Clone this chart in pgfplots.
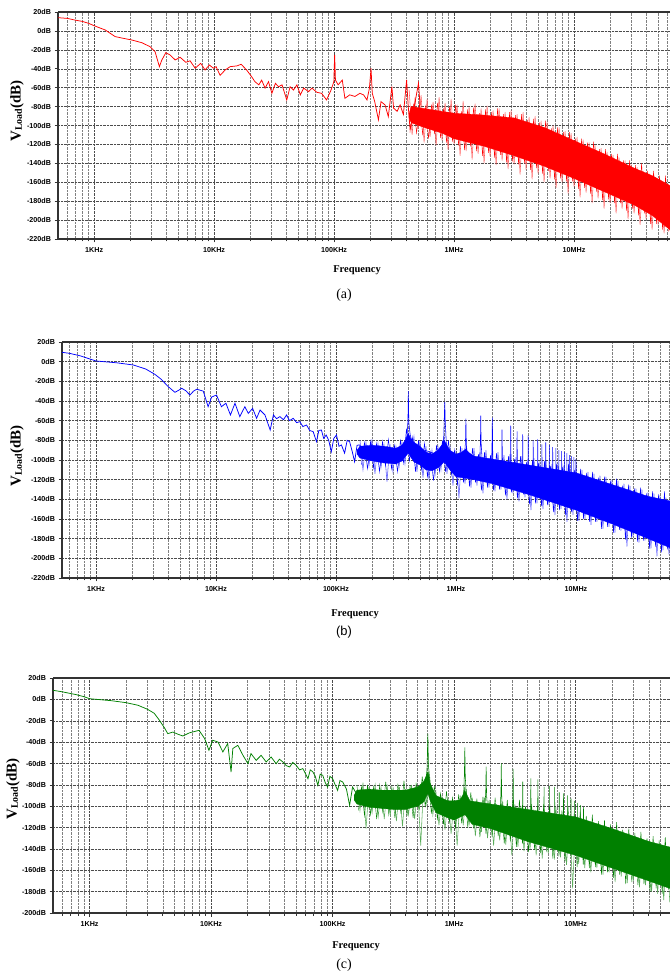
\documentclass[border=0pt]{standalone}
\usepackage{pgfplots}
\pgfplotsset{compat=1.18}
\usepackage{fontspec}
\setmainfont{Liberation Serif}
\setsansfont{Liberation Sans}

\definecolor{sred}{RGB}{255,0,0}
\definecolor{sblue}{RGB}{0,0,255}
\definecolor{sgreen}{RGB}{0,128,0}

% common look of the three spectra
\pgfplotsset{
  specaxis/.style={
    scale only axis, anchor=south west,
    axis x line*=box, axis y line*=left,
    xtick pos=bottom, ytick pos=left,
    axis line style={black!80, line width=1.1bp},
    tick align=outside,
    major tick length=3.5bp, minor tick length=2.5bp,
    tick style={black!80, line width=0.6bp},
    xtick={1e3,1e4,1e5,1e6,1e7},
    xticklabels={1KHz,10KHz,100KHz,1MHz,10MHz},
    minor xtick={600,700,800,900,2000,3000,4000,5000,6000,7000,8000,9000,
      2e4,3e4,4e4,5e4,6e4,7e4,8e4,9e4,2e5,3e5,4e5,5e5,6e5,7e5,8e5,9e5,
      2e6,3e6,4e6,5e6,6e6,7e6,8e6,9e6,2e7,3e7,4e7,5e7,6e7},
    grid=both,
    major grid style={densely dotted, black!70, line width=0.45bp},
    minor grid style={densely dotted, black!50, line width=0.45bp},
    tick label style={font=\sffamily\bfseries\fontsize{7.2}{8}\selectfont},
    xticklabel style={yshift=-1.5bp},
  },
  longspikes/.style={line width=0.55bp},
  shortspikes/.style={line width=0.4bp},
  mainline/.style={line width=0.75bp},
}

\newcommand{\vlabel}{\fontsize{15}{15}\selectfont\bfseries V\raisebox{-1.3bp}{\fontsize{10}{10}\selectfont Load}(dB)}
\newcommand{\flabel}{\fontsize{10.5}{12}\selectfont\bfseries Frequency}

\begin{document}
\begin{tikzpicture}
\path[use as bounding box] (0,0) rectangle (670bp,979bp);

%% ---------------- (a) ----------------
\begin{axis}[xmode=log, specaxis, at={(58bp,740bp)}, width=612bp, height=227bp,
  xmin=500, xmax=6.3e7, ymin=-220, ymax=20,
  ytick={-220,-200,...,20},
  yticklabels={-220dB,-200dB,-180dB,-160dB,-140dB,-120dB,-100dB,-80dB,-60dB,-40dB,-20dB,0dB,20dB}]
\addplot[longspikes, sred!65] coordinates {
(4.217e5,-62) (4.467e5,-110) (4.732e5,-70) (5.012e5,-104) (5.309e5,-68) (5.623e5,-118)
(5.957e5,-72) (6.310e5,-112) (6.683e5,-75) (7.079e5,-121) (7.499e5,-70) (7.943e5,-116)
(8.414e5,-76) (8.913e5,-126) (9.441e5,-72) (1.000e6,-120) (1.059e6,-78) (1.122e6,-132)
(1.189e6,-74) (1.259e6,-127) (1.334e6,-80) (1.413e6,-136) (1.496e6,-77) (1.585e6,-130)
(1.679e6,-82) (1.778e6,-140) (1.884e6,-79) (1.995e6,-133) (2.113e6,-84) (2.239e6,-142)
(2.371e6,-82) (2.512e6,-137) (2.661e6,-86) (2.818e6,-146) (2.985e6,-84) (3.162e6,-141)
(3.350e6,-88) (3.548e6,-152) (3.758e6,-86) (3.981e6,-147) (4.217e6,-91) (4.467e6,-157)
(4.732e6,-90) (5.012e6,-151) (5.309e6,-95) (5.623e6,-160) (5.957e6,-96) (6.310e6,-156)
(6.683e6,-100) (7.079e6,-166) (7.499e6,-102) (7.943e6,-160) (8.414e6,-106) (8.913e6,-172)
(9.441e6,-108) (1.000e7,-165) (1.059e7,-112) (1.122e7,-176) (1.189e7,-115) (1.259e7,-171)
(1.334e7,-118) (1.413e7,-182) (1.496e7,-121) (1.585e7,-177) (1.679e7,-124) (1.778e7,-188)
(1.884e7,-128) (1.995e7,-182) (2.113e7,-131) (2.239e7,-193) (2.371e7,-134) (2.512e7,-188)
(2.661e7,-137) (2.818e7,-199) (2.985e7,-141) (3.162e7,-193) (3.350e7,-144) (3.548e7,-205)
(3.758e7,-148) (3.981e7,-199) (4.217e7,-151) (4.467e7,-210) (4.732e7,-155) (5.012e7,-205)
(5.309e7,-158) (5.623e7,-214) (5.957e7,-162) (6.310e7,-212)};
\addplot[draw=sred, fill=sred, line width=0.3bp] coordinates {
(4.2e5,-88) (4.4e5,-80) (5.6e5,-82) (7.9e5,-85) (1e6,-87) (1.78e6,-89) (3.16e6,-92)
(5.62e6,-102) (1e7,-116) (1.78e7,-130) (3.16e7,-145) (4.47e7,-153) (6.4e7,-164)
(6.4e7,-211) (4.47e7,-195) (3.16e7,-184) (1.78e7,-170) (1e7,-156) (5.62e6,-143)
(3.16e6,-132) (1.78e6,-122) (1e6,-114) (7.9e5,-108) (5.6e5,-102) (4.4e5,-97) (4.2e5,-92)};
\addplot[shortspikes, sred] coordinates {
(4.340e5,-103) (4.597e5,-78) (4.870e5,-108) (5.158e5,-77) (5.464e5,-109) (5.788e5,-80)
(6.131e5,-114) (6.494e5,-78) (6.879e5,-109) (7.286e5,-76) (7.718e5,-113) (8.175e5,-82)
(8.660e5,-118) (9.173e5,-80) (9.716e5,-117) (1.029e6,-78) (1.090e6,-121) (1.155e6,-85)
(1.223e6,-126) (1.296e6,-83) (1.372e6,-122) (1.454e6,-81) (1.540e6,-127) (1.631e6,-87)
(1.728e6,-132) (1.830e6,-83) (1.939e6,-129) (2.054e6,-86) (2.175e6,-134) (2.304e6,-82)
(2.441e6,-131) (2.585e6,-88) (2.738e6,-139) (2.901e6,-86) (3.073e6,-138) (3.255e6,-89)
(3.447e6,-141) (3.652e6,-88) (3.868e6,-140) (4.097e6,-94) (4.340e6,-147) (4.597e6,-93)
(4.870e6,-145) (5.158e6,-97) (5.464e6,-151) (5.788e6,-95) (6.131e6,-148) (6.494e6,-103)
(6.879e6,-157) (7.286e6,-102) (7.718e6,-156) (8.175e6,-107) (8.660e6,-159) (9.173e6,-107)
(9.716e6,-159) (1.029e7,-114) (1.090e7,-167) (1.155e7,-114) (1.223e7,-166) (1.296e7,-118)
(1.372e7,-172) (1.454e7,-117) (1.540e7,-170) (1.631e7,-125) (1.728e7,-179) (1.830e7,-125)
(1.939e7,-178) (2.054e7,-130) (2.175e7,-182) (2.304e7,-130) (2.441e7,-182) (2.585e7,-137)
(2.738e7,-190) (2.901e7,-137) (3.073e7,-188) (3.255e7,-142) (3.447e7,-195) (3.652e7,-140)
(3.868e7,-193) (4.097e7,-148) (4.340e7,-204) (4.597e7,-148) (4.870e7,-204) (5.158e7,-153)
(5.464e7,-210) (5.788e7,-153) (6.131e7,-212)};
\addplot[mainline, sred] coordinates {
(500,14) (600,13.2) (690,11.5) (800,10) (900,8) (1000,5.5) (1236,1) (1496,-6) (1700,-7.5)
(2060,-9.6) (2500,-12.5) (2930,-16.7) (3220,-22) (3500,-37.8) (3660,-31) (3960,-23)
(4300,-25.5) (4740,-30.7) (5210,-27.9) (5810,-33.2) (6310,-31.6) (6950,-39.5) (7730,-34.3)
(8410,-41.3) (9130,-36) (9860,-39.5) (10380,-37.8) (11220,-47) (12360,-41.3) (13600,-37.8)
(15470,-37) (16800,-35.3) (18660,-41.3) (20530,-48.4) (21880,-53.7) (23600,-57) (24900,-52)
(26600,-60.5) (28400,-53.7) (30300,-66) (32400,-55.5) (34500,-59) (36800,-57) (40300,-73)
(43000,-59) (45900,-62.5) (49000,-57) (52300,-67.6) (55800,-60.5) (61300,-64.2) (65400,-60.5)
(71800,-64.9) (78700,-66) (86500,-73) (94300,-62.5) (99500,-53.7) (101000,-25.4) (102600,-52)
(108000,-57) (117000,-52) (123000,-71.3) (135000,-67.6) (149000,-69.3) (164000,-66)
(176000,-67.6) (188000,-73) (197000,-60.5) (203000,-39.5) (208000,-66) (218000,-74.8)
(234000,-94) (246000,-74.8) (266000,-78.3) (283000,-90.6) (303000,-59) (313000,-81.6)
(335000,-85) (355000,-78.3) (378000,-88.4) (402000,-51.9) (414000,-78.3) (430000,-104.7)
(458000,-85) (505000,-55.4) (520000,-78.3)};
\end{axis}

%% ---------------- (b) ----------------
\begin{axis}[xmode=log, specaxis, at={(62bp,401bp)}, width=608bp, height=236bp,
  xmin=521, xmax=6.08e7, ymin=-220, ymax=20,
  ytick={-220,-200,...,20},
  yticklabels={-220dB,-200dB,-180dB,-160dB,-140dB,-120dB,-100dB,-80dB,-60dB,-40dB,-20dB,0dB,20dB}]
\addplot[longspikes, sblue!65] coordinates {
(1.585e5,-80) (1.679e5,-110) (1.778e5,-82) (1.884e5,-106) (1.995e5,-79) (2.113e5,-114)
(2.239e5,-83) (2.371e5,-108) (2.512e5,-84) (2.661e5,-122) (2.818e5,-84) (2.985e5,-112)
(3.162e5,-86) (3.350e5,-108) (3.548e5,-82) (3.758e5,-104) (3.981e5,-72) (4.217e5,-96)
(4.467e5,-76) (4.732e5,-112) (5.012e5,-80) (5.309e5,-118) (5.623e5,-86) (5.957e5,-120)
(6.310e5,-90) (6.683e5,-116) (7.079e5,-86) (7.499e5,-110) (7.943e5,-76) (8.414e5,-114)
(8.913e5,-86) (9.441e5,-126) (1.000e6,-90) (1.059e6,-139) (1.122e6,-88) (1.189e6,-124)
(1.259e6,-92) (1.334e6,-128) (1.413e6,-88) (1.496e6,-126) (1.585e6,-92) (1.679e6,-134)
(1.778e6,-90) (1.884e6,-128) (1.995e6,-93) (2.113e6,-132) (2.239e6,-92) (2.371e6,-130)
(2.512e6,-95) (2.661e6,-140) (2.818e6,-94) (2.985e6,-134) (3.162e6,-97) (3.350e6,-142)
(3.548e6,-96) (3.758e6,-138) (3.981e6,-99) (4.217e6,-151) (4.467e6,-98) (4.732e6,-144)
(5.012e6,-101) (5.309e6,-150) (5.623e6,-101) (5.957e6,-146) (6.310e6,-104) (6.683e6,-156)
(7.079e6,-103) (7.499e6,-150) (7.943e6,-106) (8.414e6,-163) (8.913e6,-106) (9.441e6,-156)
(1.000e7,-108) (1.059e7,-162) (1.122e7,-110) (1.189e7,-160) (1.259e7,-112) (1.334e7,-166)
(1.413e7,-114) (1.496e7,-163) (1.585e7,-116) (1.679e7,-170) (1.778e7,-117) (1.884e7,-168)
(1.995e7,-120) (2.113e7,-174) (2.239e7,-121) (2.371e7,-172) (2.512e7,-124) (2.661e7,-188)
(2.818e7,-126) (2.985e7,-178) (3.162e7,-129) (3.350e7,-184) (3.548e7,-130) (3.758e7,-182)
(3.981e7,-133) (4.217e7,-190) (4.467e7,-134) (4.732e7,-198) (5.012e7,-136) (5.309e7,-192)
(5.623e7,-138) (5.957e7,-196) (6.310e7,-140)};
\addplot[draw=sblue, fill=sblue, line width=0.3bp] coordinates {
(1.5e5,-90) (1.585e5,-86) (2e5,-85) (2.5e5,-86) (3.16e5,-88) (3.55e5,-85) (3.8e5,-79)
(4.0e5,-73) (4.2e5,-78) (4.47e5,-82) (5e5,-86) (5.62e5,-92) (6.3e5,-94) (7.08e5,-90)
(7.7e5,-84) (8.0e5,-80) (8.4e5,-85) (8.9e5,-90) (1e6,-94) (1.12e6,-92) (1.2e6,-89)
(1.3e6,-93) (1.41e6,-96) (2e6,-99) (4e6,-105) (1e7,-113) (2e7,-125) (4e7,-137) (6.3e7,-142)
(6.3e7,-190) (4e7,-180) (2e7,-165) (1e7,-151) (4e6,-135) (2e6,-124) (1.41e6,-120)
(1e6,-117) (8.9e5,-110) (8.0e5,-102) (7.08e5,-108) (6.3e5,-111) (5.62e5,-110) (5e5,-105)
(4.47e5,-102) (4.0e5,-93) (3.55e5,-101) (3.16e5,-104) (2.5e5,-103) (2e5,-101) (1.585e5,-98)
(1.5e5,-94)};
\addplot[shortspikes, sblue] coordinates {
(1.631e5,-105) (1.728e5,-82) (1.830e5,-109) (1.939e5,-81) (2.054e5,-108) (2.175e5,-83)
(2.304e5,-112) (2.441e5,-81) (2.585e5,-106) (2.738e5,-79) (2.901e5,-109) (3.073e5,-85)
(3.255e5,-112) (3.447e5,-80) (3.652e5,-103) (3.868e5,-68) (4.097e5,-101) (4.340e5,-77)
(4.597e5,-112) (4.870e5,-80) (5.158e5,-110) (5.464e5,-83) (5.788e5,-117) (6.131e5,-92)
(6.494e5,-121) (6.879e5,-85) (7.286e5,-112) (7.718e5,-80) (8.175e5,-112) (8.660e5,-80)
(9.173e5,-115) (9.716e5,-90) (1.029e6,-126) (1.090e6,-86) (1.155e6,-123) (1.223e6,-86)
(1.296e6,-127) (1.372e6,-88) (1.454e6,-123) (1.540e6,-94) (1.631e6,-131) (1.728e6,-92)
(1.830e6,-128) (1.939e6,-95) (2.054e6,-131) (2.175e6,-93) (2.304e6,-130) (2.441e6,-98)
(2.585e6,-136) (2.738e6,-96) (2.901e6,-133) (3.073e6,-99) (3.255e6,-139) (3.447e6,-96)
(3.652e6,-135) (3.868e6,-102) (4.097e6,-145) (4.340e6,-100) (4.597e6,-144) (4.870e6,-103)
(5.158e6,-147) (5.464e6,-101) (5.788e6,-146) (6.131e6,-106) (6.494e6,-153) (6.879e6,-104)
(7.286e6,-151) (7.718e6,-107) (8.175e6,-156) (8.660e6,-104) (9.173e6,-153) (9.716e6,-110)
(1.029e7,-162) (1.090e7,-109) (1.155e7,-160) (1.223e7,-113) (1.296e7,-163) (1.372e7,-112)
(1.454e7,-163) (1.540e7,-118) (1.631e7,-170) (1.728e7,-117) (1.830e7,-168) (1.939e7,-121)
(2.054e7,-174) (2.175e7,-119) (2.304e7,-171) (2.441e7,-126) (2.585e7,-181) (2.738e7,-125)
(2.901e7,-179) (3.073e7,-129) (3.255e7,-183) (3.447e7,-128) (3.652e7,-182) (3.868e7,-134)
(4.097e7,-190) (4.340e7,-132) (4.597e7,-188) (4.870e7,-135) (5.158e7,-194) (5.464e7,-132)
(5.788e7,-191) (6.131e7,-139)};
\addplot[mainline, sblue] coordinates {
(521,9.5) (600,8.5) (736,6) (850,3.5) (1000,0.7) (1500,-1.2) (2050,-3.4) (2600,-7.5)
(3100,-12.9) (3500,-18) (4000,-25.4) (4550,-31.2) (4900,-29) (5180,-27.1) (5600,-29.5)
(6070,-33.9) (6500,-30) (6910,-28) (7840,-30) (8600,-45.8) (9200,-36) (10100,-33.9)
(11100,-45.8) (12100,-42.3) (13200,-54.2) (14400,-42.3) (15800,-55.9) (17400,-45.8)
(18600,-52.6) (20200,-47.5) (21800,-57.6) (23300,-49.2) (25600,-54.2) (28300,-69.5)
(30100,-54.2) (32000,-58) (34100,-55.9) (36500,-59) (38800,-54.2) (41000,-60) (44000,-57.6)
(47000,-62) (50000,-61) (53000,-66) (56800,-64.4) (60500,-70) (64600,-71.2) (68800,-81.4)
(72000,-70) (75600,-69.5) (79000,-78) (82900,-74.6) (87000,-80) (91400,-91.6) (96000,-78)
(101000,-74.6) (106000,-86) (111000,-84.7) (118000,-93) (124000,-80) (130000,-81.4)
(137000,-92) (143000,-101.7) (150000,-85) (158000,-84.7) (166000,-95) (174000,-98.3)
(182000,-86) (191000,-88.1) (200000,-84)};
% switching harmonics
\addplot[longspikes, sblue] coordinates {
(3.70e5,-90) (3.90e5,-78) (3.98e5,-60) (4.01e5,-30) (4.05e5,-62) (4.15e5,-74) (4.40e5,-86)
(7.6e5,-96) (7.9e5,-80) (8.0e5,-55) (8.07e5,-41) (8.14e5,-60) (8.3e5,-82) (8.6e5,-98)
(1.17e6,-100) (1.20e6,-82) (1.21e6,-58) (1.22e6,-84) (1.26e6,-102)
(1.58e6,-100) (1.60e6,-80) (1.61e6,-55) (1.62e6,-82) (1.66e6,-104)
(1.99e6,-100) (2.01e6,-57) (2.03e6,-102) (2.41e6,-104) (2.42e6,-69) (2.44e6,-104)
(2.85e6,-104) (2.86e6,-65) (2.88e6,-106) (3.22e6,-105) (3.23e6,-71) (3.25e6,-106)
(3.59e6,-106) (3.60e6,-74) (3.62e6,-107) (3.99e6,-107) (4.00e6,-75) (4.02e6,-108)
(4.39e6,-108) (4.40e6,-80) (4.42e6,-108) (4.79e6,-108) (4.80e6,-79) (4.82e6,-109)
(5.19e6,-109) (5.20e6,-84) (5.22e6,-110) (5.59e6,-110) (5.60e6,-82) (5.62e6,-110)
(5.99e6,-110) (6.00e6,-85) (6.02e6,-111) (6.39e6,-111) (6.40e6,-87) (6.42e6,-111)
(6.79e6,-111) (6.80e6,-88) (6.82e6,-112) (7.19e6,-112) (7.20e6,-90) (7.22e6,-112)
(7.59e6,-112) (7.60e6,-91) (7.62e6,-113) (7.99e6,-113) (8.00e6,-92) (8.02e6,-113)
(8.39e6,-113) (8.40e6,-93) (8.42e6,-114) (8.79e6,-114) (8.80e6,-95) (8.82e6,-114)
(9.19e6,-114) (9.20e6,-96) (9.22e6,-115) (9.59e6,-115) (9.60e6,-97) (9.62e6,-115)
(9.99e6,-115) (1.00e7,-99) (1.002e7,-116)};
\end{axis}

%% ---------------- (c) ----------------
\begin{axis}[xmode=log, specaxis, at={(53bp,66bp)}, width=617bp, height=235bp,
  xmin=500, xmax=5.98e7, ymin=-200, ymax=20,
  ytick={-200,-180,...,20},
  yticklabels={-200dB,-180dB,-160dB,-140dB,-120dB,-100dB,-80dB,-60dB,-40dB,-20dB,0dB,20dB}]
\addplot[longspikes, sgreen!65] coordinates {
(1.585e5,-80) (1.679e5,-104) (1.778e5,-78) (1.884e5,-121) (1.995e5,-82) (2.113e5,-106)
(2.239e5,-80) (2.371e5,-110) (2.512e5,-84) (2.661e5,-112) (2.818e5,-82) (2.985e5,-108)
(3.162e5,-84) (3.350e5,-114) (3.548e5,-82) (3.758e5,-119) (3.981e5,-84) (4.217e5,-108)
(4.467e5,-80) (4.732e5,-112) (5.012e5,-82) (5.309e5,-137) (5.623e5,-76) (5.957e5,-98)
(6.310e5,-74) (6.683e5,-108) (7.079e5,-86) (7.499e5,-118) (7.943e5,-90) (8.414e5,-122)
(8.913e5,-92) (9.441e5,-126) (1.000e6,-94) (1.059e6,-137) (1.122e6,-90) (1.189e6,-118)
(1.259e6,-84) (1.334e6,-116) (1.413e6,-92) (1.496e6,-128) (1.585e6,-96) (1.679e6,-124)
(1.778e6,-92) (1.884e6,-130) (1.995e6,-96) (2.113e6,-137) (2.239e6,-98) (2.371e6,-132)
(2.512e6,-96) (2.661e6,-136) (2.818e6,-100) (2.985e6,-146) (3.162e6,-98) (3.350e6,-138)
(3.548e6,-100) (3.758e6,-142) (3.981e6,-102) (4.217e6,-140) (4.467e6,-103) (4.732e6,-146)
(5.012e6,-104) (5.309e6,-149) (5.623e6,-106) (5.957e6,-144) (6.310e6,-107) (6.683e6,-150)
(7.079e6,-108) (7.499e6,-148) (7.943e6,-110) (8.414e6,-155) (8.913e6,-111) (9.441e6,-177)
(1.000e7,-113) (1.059e7,-154) (1.122e7,-115) (1.189e7,-158) (1.259e7,-116) (1.334e7,-162)
(1.413e7,-118) (1.496e7,-158) (1.585e7,-119) (1.679e7,-164) (1.778e7,-121) (1.884e7,-162)
(1.995e7,-123) (2.113e7,-171) (2.239e7,-124) (2.371e7,-166) (2.512e7,-126) (2.661e7,-172)
(2.818e7,-128) (2.985e7,-170) (3.162e7,-130) (3.350e7,-176) (3.548e7,-131) (3.758e7,-174)
(3.981e7,-133) (4.217e7,-180) (4.467e7,-134) (4.732e7,-182) (5.012e7,-136) (5.309e7,-188)
(5.623e7,-138) (5.957e7,-190)};
\addplot[draw=sgreen, fill=sgreen, line width=0.3bp] coordinates {
(1.5e5,-90) (1.585e5,-85) (2e5,-84) (2.5e5,-85) (3.16e5,-85) (3.98e5,-85) (5.01e5,-82)
(5.62e5,-77) (6.08e5,-68) (6.31e5,-78) (7.08e5,-90) (8.9e5,-95) (1e6,-95) (1.12e6,-94)
(1.23e6,-86) (1.35e6,-95) (2e6,-98) (4e6,-103) (1e7,-110) (2e7,-121) (4e7,-133) (6.3e7,-139)
(6.3e7,-178) (4e7,-170) (2e7,-158) (1e7,-146) (4e6,-133) (2e6,-121) (1.41e6,-117)
(1.23e6,-108) (1e6,-113) (8.9e5,-111) (7.08e5,-106) (6.31e5,-94) (6.08e5,-88) (5.62e5,-96)
(5.01e5,-100) (3.98e5,-103) (3.16e5,-103) (2.5e5,-102) (2e5,-101) (1.585e5,-98) (1.5e5,-94)};
\addplot[shortspikes, sgreen] coordinates {
(1.631e5,-104) (1.728e5,-82) (1.830e5,-109) (1.939e5,-80) (2.054e5,-108) (2.175e5,-82)
(2.304e5,-112) (2.441e5,-80) (2.585e5,-105) (2.738e5,-77) (2.901e5,-108) (3.073e5,-82)
(3.255e5,-111) (3.447e5,-79) (3.652e5,-107) (3.868e5,-76) (4.097e5,-109) (4.340e5,-81)
(4.597e5,-111) (4.870e5,-78) (5.158e5,-104) (5.464e5,-72) (5.788e5,-101) (6.131e5,-68)
(6.494e5,-107) (6.879e5,-81) (7.286e5,-112) (7.718e5,-88) (8.175e5,-117) (8.660e5,-86)
(9.173e5,-115) (9.716e5,-92) (1.029e6,-121) (1.090e6,-89) (1.155e6,-116) (1.223e6,-82)
(1.296e6,-120) (1.372e6,-87) (1.454e6,-121) (1.540e6,-93) (1.631e6,-129) (1.728e6,-91)
(1.830e6,-126) (1.939e6,-94) (2.054e6,-129) (2.175e6,-92) (2.304e6,-128) (2.441e6,-97)
(2.585e6,-135) (2.738e6,-94) (2.901e6,-133) (3.073e6,-97) (3.255e6,-138) (3.447e6,-94)
(3.652e6,-135) (3.868e6,-100) (4.097e6,-143) (4.340e6,-98) (4.597e6,-141) (4.870e6,-101)
(5.158e6,-144) (5.464e6,-98) (5.788e6,-143) (6.131e6,-103) (6.494e6,-149) (6.879e6,-101)
(7.286e6,-147) (7.718e6,-104) (8.175e6,-152) (8.660e6,-101) (9.173e6,-148) (9.716e6,-107)
(1.029e7,-157) (1.090e7,-105) (1.155e7,-155) (1.223e7,-109) (1.296e7,-158) (1.372e7,-108)
(1.454e7,-157) (1.540e7,-114) (1.631e7,-164) (1.728e7,-113) (1.830e7,-162) (1.939e7,-117)
(2.054e7,-167) (2.175e7,-115) (2.304e7,-164) (2.441e7,-122) (2.585e7,-173) (2.738e7,-121)
(2.901e7,-171) (3.073e7,-125) (3.255e7,-174) (3.447e7,-124) (3.652e7,-173) (3.868e7,-130)
(4.097e7,-180) (4.340e7,-128) (4.597e7,-177) (4.870e7,-132) (5.158e7,-182) (5.464e7,-129)
(5.788e7,-178) (6.131e7,-136)};
\addplot[mainline, sgreen] coordinates {
(500,8.5) (600,7) (777,4.4) (900,2.5) (1000,0.6) (1500,-1.2) (2000,-3.1) (2500,-5.5)
(3000,-9.3) (3400,-13) (3760,-19.6) (4100,-26) (4400,-32.1) (4850,-30.6) (5300,-32.5)
(5850,-34.3) (6650,-31.3) (7960,-29) (8850,-36.7) (9600,-47.7) (10300,-38.3) (11400,-39.9)
(12500,-49.2) (13700,-41.4) (14600,-68) (15100,-46) (16600,-43) (18300,-52.4) (20100,-60.2)
(21300,-50.8) (23500,-57.1) (25800,-52.4) (28400,-58.6) (31200,-54) (34300,-60.2)
(36500,-56) (39000,-58.6) (41500,-62) (44300,-63.3) (47000,-59) (50100,-61.7) (53500,-66)
(56900,-64.8) (62700,-74.2) (65500,-66) (68800,-67.9) (72000,-72) (75600,-80.5) (79000,-70)
(83000,-71.1) (87000,-78) (91000,-82) (95000,-72) (100000,-74.2) (105000,-80) (110000,-85.2)
(115000,-76) (121000,-77.3) (130000,-84) (138000,-99.2) (146000,-82) (153000,-86)
(161000,-89.8)};
\addplot[longspikes, sgreen] coordinates {
(5.5e5,-92) (5.8e5,-80) (5.98e5,-66) (6.08e5,-32) (6.15e5,-62) (6.35e5,-80) (6.7e5,-94)
(1.15e6,-100) (1.20e6,-86) (1.215e6,-70) (1.225e6,-45) (1.235e6,-72) (1.26e6,-90) (1.32e6,-104)
(1.78e6,-104) (1.82e6,-88) (1.835e6,-63) (1.85e6,-90) (1.90e6,-106)
(2.40e6,-104) (2.43e6,-86) (2.445e6,-60) (2.46e6,-88) (2.50e6,-106)
(3.02e6,-106) (3.05e6,-90) (3.06e6,-65) (3.075e6,-92) (3.11e6,-108)
(3.65e6,-108) (3.67e6,-77) (3.69e6,-108) (4.26e6,-109) (4.28e6,-74) (4.30e6,-110)
(4.87e6,-110) (4.89e6,-75) (4.91e6,-111) (5.48e6,-111) (5.50e6,-82) (5.52e6,-112)
(6.09e6,-112) (6.11e6,-81) (6.13e6,-113) (6.70e6,-113) (6.72e6,-82) (6.74e6,-114)
(7.31e6,-114) (7.33e6,-87) (7.35e6,-115) (7.92e6,-115) (7.94e6,-88) (7.96e6,-116)
(8.53e6,-116) (8.55e6,-90) (8.57e6,-117) (9.14e6,-117) (9.16e6,-93) (9.18e6,-118)
(9.75e6,-118) (9.77e6,-95) (9.79e6,-119) (1.036e7,-119) (1.038e7,-97) (1.040e7,-120)
(1.097e7,-120) (1.099e7,-99) (1.101e7,-121) (1.158e7,-121) (1.160e7,-101) (1.162e7,-122)};
\end{axis}

%% labels
\node[rotate=90] at (17bp,868bp) {\vlabel};
\node[rotate=90] at (17bp,523bp) {\vlabel};
\node[rotate=90] at (13bp,190bp) {\vlabel};
\node at (357bp,709bp) {\flabel};
\node at (355bp,365bp) {\flabel};
\node at (356bp,33bp) {\flabel};
\node at (344bp,684bp) {\fontsize{14}{14}\selectfont (a)};
\node at (344bp,347bp) {\sffamily\fontsize{13}{13}\selectfont (b)};
\node at (344bp,14bp) {\fontsize{14}{14}\selectfont (c)};
\end{tikzpicture}
\end{document}
